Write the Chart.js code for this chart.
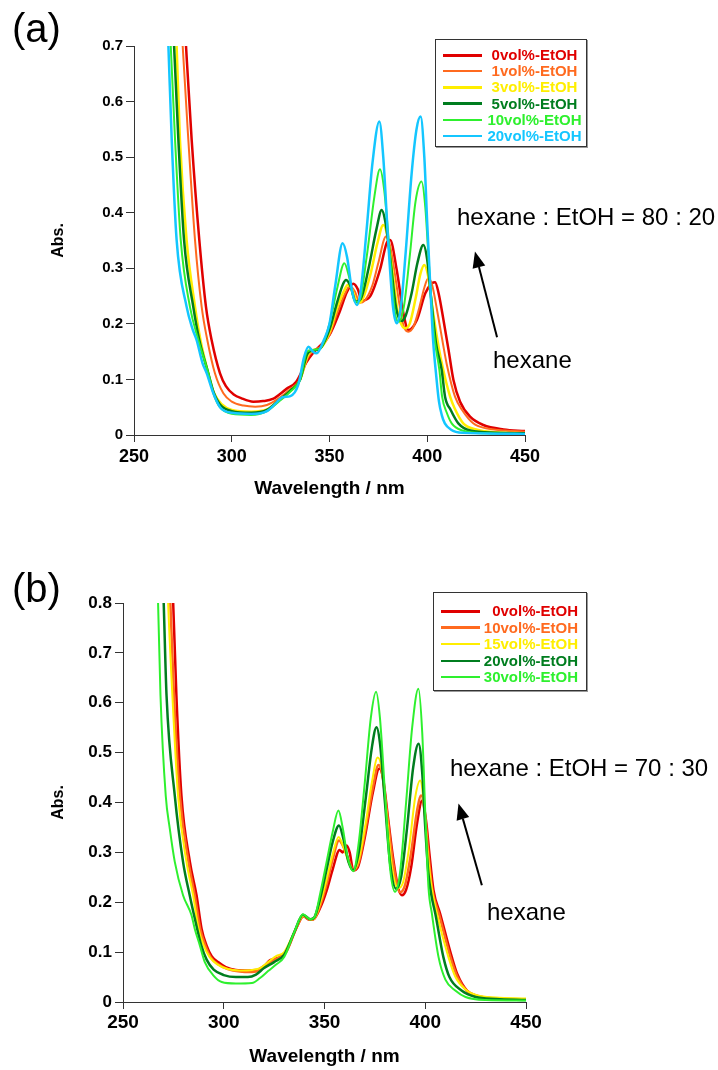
<!DOCTYPE html>
<html>
<head>
<meta charset="utf-8">
<script src="https://cdn.jsdelivr.net/npm/chart.js@4.4.1/dist/chart.umd.min.js"></script>
<style>
  body { margin: 0; background: #fff; font-family: "Liberation Sans", Arial, sans-serif; }
  #page { position: relative; width: 718px; height: 1070px; overflow: hidden; }
  .panel { position: absolute; left: 0; }
  .note { position: absolute; font-size: 24px; line-height: 24px; white-space: nowrap; color: #000; }
  .tag { position: absolute; font-size: 40px; line-height: 40px; color: #000; }
  .legend { position: absolute; box-sizing: border-box; border: 1px solid #333; box-shadow: 1px 1px 0 #999; background: #fff; }
  .legend .row { position: absolute; left: 0; right: 0; height: 16px; }
  .legend .swatch { position: absolute; left: 7px; width: 39px; }
  .legend .lab { position: absolute; top: 0; font-weight: bold; font-size: 15px; line-height: 16px; white-space: nowrap; }
</style>
</head>
<body>
<div id="page">
  <div class="panel" style="top:0; width:718px; height:530px;"><canvas id="chartA" width="718" height="530"></canvas></div>
  <div class="panel" style="top:530px; width:718px; height:540px;"><canvas id="chartB" width="718" height="540"></canvas></div>

  <div class="tag" style="left:12px; top:8px;">(a)</div>
  <div class="tag" style="left:12px; top:568px;">(b)</div>

  <div class="note" style="left:457px; top:205px;">hexane : EtOH = 80 : 20</div>
  <div class="note" style="left:493px; top:348px;">hexane</div>
  <div class="note" style="left:450px; top:756px;">hexane : EtOH = 70 : 30</div>
  <div class="note" style="left:487px; top:900px;">hexane</div>

  <div id="legendA" class="legend" style="left:435px; top:39px; width:152px; height:108px;"></div>
  <div id="legendB" class="legend" style="left:433px; top:592px; width:154px; height:99px;"></div>
</div>

<script>
// ---- panel (a): hexane : EtOH = 80 : 20 ----
const labelsA = ['0vol%-EtOH', '1vol%-EtOH', '3vol%-EtOH', '5vol%-EtOH', '10vol%-EtOH', '20vol%-EtOH'];
const colorsA = ['#e00000', '#ff6a1f', '#ffee00', '#007d1f', '#2ef02e', '#14c6ff'];
const widthsA = [2.5, 2, 2.5, 2.5, 2, 2.5];

const wlA0 = [275, 276.6, 279.5, 283.4, 286.8, 289.7, 294, 297, 301, 305, 311, 316, 321, 328, 333, 338, 341, 345, 350, 355, 359, 362.2, 364.5, 366.5, 370.7, 375.8, 379.2, 381, 384.4, 387.8, 390.4, 394.7, 399, 402.4, 404, 405.8, 408.3, 410.9, 413.4, 416.8, 421.9, 428.7, 439, 450];
const absA0 = [0.80, 0.70, 0.531, 0.351, 0.231, 0.171, 0.111, 0.088, 0.073, 0.066, 0.060, 0.061, 0.065, 0.083, 0.096, 0.13, 0.145, 0.16, 0.18, 0.22, 0.258, 0.272, 0.262, 0.242, 0.249, 0.297, 0.345, 0.351, 0.297, 0.219, 0.189, 0.207, 0.255, 0.273, 0.275, 0.255, 0.207, 0.153, 0.099, 0.06, 0.033, 0.018, 0.01, 0.007];

const wlA1 = [273.5, 274.9, 277.8, 281.2, 284.6, 287.5, 291.4, 295.7, 300, 306, 312, 318, 324, 330, 335, 339, 342, 346, 350, 354, 358, 360.5, 363, 365.5, 368, 372, 375, 378.9, 381, 383, 386, 388, 390.3, 393, 396, 398.5, 400.5, 402.5, 405, 408, 410, 414.2, 418, 423.5, 430, 440, 450];
const absA1 = [0.80, 0.70, 0.531, 0.351, 0.231, 0.171, 0.111, 0.075, 0.06, 0.053, 0.051, 0.054, 0.066, 0.083, 0.1, 0.14, 0.152, 0.16, 0.18, 0.22, 0.255, 0.268, 0.258, 0.238, 0.242, 0.27, 0.31, 0.357, 0.34, 0.3, 0.23, 0.195, 0.186, 0.195, 0.23, 0.265, 0.282, 0.27, 0.225, 0.165, 0.127, 0.069, 0.044, 0.021, 0.012, 0.008, 0.006];

const wlA3 = [270.5, 271.8, 273.5, 276.9, 281.2, 284, 288, 291, 295, 300, 310, 318, 324, 330, 335, 338.5, 341, 345, 350, 354, 357.5, 359.3, 361.5, 364.5, 367, 371, 374.5, 377.5, 379.5, 382, 385, 388.6, 391, 394, 396.5, 398.5, 400.5, 403, 406, 408.2, 411.7, 414, 418.4, 425, 435, 450];
const absA3 = [0.80, 0.70, 0.531, 0.351, 0.231, 0.171, 0.111, 0.075, 0.055, 0.045, 0.042, 0.046, 0.062, 0.08, 0.1, 0.14, 0.152, 0.155, 0.185, 0.23, 0.26, 0.27, 0.262, 0.237, 0.245, 0.29, 0.345, 0.378, 0.36, 0.3, 0.22, 0.192, 0.2, 0.245, 0.29, 0.306, 0.285, 0.22, 0.155, 0.117, 0.069, 0.048, 0.021, 0.01, 0.005, 0.003];

const wlA5 = [269.3, 270.5, 272.7, 275.6, 280.3, 283.4, 288, 290.6, 294, 300, 310, 318, 324, 330, 335, 338.5, 341, 345, 350, 354, 357, 358.4, 360.5, 363.5, 366, 370, 374, 376.7, 378.5, 381, 384, 386.9, 389, 392, 395, 398, 400, 402, 404.5, 407.4, 409.1, 412, 415.9, 422, 435, 450];
const absA5 = [0.80, 0.70, 0.531, 0.351, 0.231, 0.171, 0.111, 0.078, 0.055, 0.043, 0.04, 0.045, 0.062, 0.08, 0.1, 0.145, 0.152, 0.155, 0.19, 0.24, 0.272, 0.279, 0.27, 0.24, 0.245, 0.3, 0.37, 0.405, 0.385, 0.32, 0.23, 0.205, 0.215, 0.255, 0.31, 0.342, 0.315, 0.245, 0.165, 0.117, 0.069, 0.045, 0.021, 0.008, 0.004, 0.003];

const wlA10 = [267.6, 268.8, 271, 273.9, 278.6, 282.9, 288, 290.6, 294, 300, 310, 318, 324, 330, 335, 338.5, 341, 345, 350, 354, 357.6, 360, 363, 365, 369, 373, 375.8, 378, 381, 383.5, 385.6, 388, 391, 394, 397.1, 399, 401, 403.5, 406.2, 407.6, 410, 412.5, 418, 430, 450];
const absA10 = [0.80, 0.70, 0.531, 0.351, 0.231, 0.171, 0.111, 0.075, 0.05, 0.038, 0.036, 0.043, 0.06, 0.078, 0.1, 0.15, 0.153, 0.155, 0.2, 0.265, 0.309, 0.285, 0.24, 0.24, 0.32, 0.43, 0.478, 0.44, 0.32, 0.22, 0.204, 0.23, 0.32, 0.42, 0.456, 0.41, 0.3, 0.18, 0.117, 0.069, 0.04, 0.021, 0.008, 0.003, 0.002];

const wlA20 = [266.5, 267.6, 269.3, 271.8, 276.9, 280, 282, 285, 287.2, 290.6, 294, 300, 310, 318, 322, 326, 330, 334, 337, 339.2, 341.5, 343.4, 347, 350, 353, 356.7, 359, 361.5, 364, 366, 369, 372, 375.5, 377.5, 380, 382.5, 384.4, 386.5, 389, 392, 394.5, 396.6, 398.5, 400, 401.4, 403, 404.5, 406, 407.5, 409, 412, 418, 450];
const absA20 = [0.80, 0.70, 0.531, 0.351, 0.231, 0.19, 0.171, 0.13, 0.111, 0.075, 0.05, 0.04, 0.038, 0.043, 0.055, 0.068, 0.07, 0.09, 0.14, 0.159, 0.15, 0.147, 0.17, 0.2, 0.27, 0.345, 0.32, 0.26, 0.234, 0.26, 0.37, 0.49, 0.564, 0.5, 0.35, 0.23, 0.201, 0.23, 0.33, 0.47, 0.55, 0.573, 0.5, 0.38, 0.279, 0.17, 0.11, 0.06, 0.035, 0.021, 0.01, 0.004, 0.002];

// ---- panel (b): hexane : EtOH = 70 : 30 ----
const labelsB = ['0vol%-EtOH', '10vol%-EtOH', '15vol%-EtOH', '20vol%-EtOH', '30vol%-EtOH'];
const colorsB = ['#e00000', '#ff6a1f', '#ffee00', '#007d1f', '#2ef02e'];
const widthsB = [2.5, 2.5, 2, 2.5, 2];

const wlB0 = [274.2, 274.9, 276.5, 279, 283.2, 286.5, 289, 291.4, 294, 297.2, 301, 306, 312, 316.3, 320, 323, 328, 331.2, 336.2, 339.5, 342.5, 344.5, 348, 351.1, 354, 357.5, 359, 361, 362.5, 364.3, 366.5, 370, 374, 377.2, 379, 381.5, 384, 386.5, 388.4, 390.5, 393, 396, 398.5, 400.5, 402, 404.1, 407.4, 413.2, 416, 420.7, 426, 435, 450];
const absB0 = [0.85, 0.80, 0.615, 0.414, 0.281, 0.214, 0.147, 0.114, 0.092, 0.08, 0.07, 0.064, 0.063, 0.064, 0.072, 0.084, 0.09, 0.103, 0.15, 0.172, 0.165, 0.166, 0.19, 0.224, 0.265, 0.305, 0.3, 0.314, 0.3, 0.264, 0.27, 0.33, 0.42, 0.468, 0.45, 0.37, 0.29, 0.23, 0.214, 0.225, 0.27, 0.36, 0.404, 0.36, 0.3, 0.224, 0.177, 0.09, 0.055, 0.023, 0.012, 0.007, 0.005];

const wlB10 = [273, 273.5, 275.3, 278.2, 282.5, 285.6, 288.3, 290.8, 293.5, 297, 302, 308, 314, 318, 322, 327, 331, 336, 339.5, 343, 345, 348, 351, 354, 357.2, 359.5, 362, 364.3, 367, 370.5, 374, 376.8, 378.5, 381, 384, 387.5, 390, 393, 396, 398, 400, 401.5, 403.5, 406.8, 412.5, 416, 420.5, 426, 435, 450];
const absB10 = [0.85, 0.80, 0.615, 0.414, 0.281, 0.214, 0.147, 0.114, 0.09, 0.076, 0.066, 0.061, 0.06, 0.064, 0.077, 0.088, 0.1, 0.148, 0.172, 0.165, 0.167, 0.195, 0.235, 0.285, 0.324, 0.31, 0.285, 0.264, 0.28, 0.35, 0.43, 0.475, 0.46, 0.38, 0.28, 0.22, 0.235, 0.3, 0.385, 0.414, 0.37, 0.3, 0.225, 0.177, 0.09, 0.05, 0.023, 0.011, 0.006, 0.005];

const wlB15 = [272, 272.4, 274.5, 277.3, 281.5, 284.8, 287.5, 290, 293, 297, 302, 308, 314, 318, 322, 326, 330, 335, 339.5, 343, 345, 348, 351, 354, 357, 359.5, 362, 364.3, 367, 370.5, 373.5, 376.4, 378.3, 381, 383.5, 386.6, 389, 392, 395, 397.5, 399.5, 401, 403, 405.8, 411.5, 415, 420, 426, 435, 450];
const absB15 = [0.85, 0.80, 0.615, 0.414, 0.281, 0.214, 0.147, 0.114, 0.09, 0.075, 0.066, 0.063, 0.064, 0.068, 0.08, 0.092, 0.1, 0.14, 0.173, 0.165, 0.168, 0.2, 0.245, 0.295, 0.331, 0.31, 0.28, 0.264, 0.285, 0.36, 0.44, 0.49, 0.47, 0.37, 0.27, 0.228, 0.24, 0.31, 0.41, 0.444, 0.39, 0.31, 0.235, 0.177, 0.09, 0.05, 0.025, 0.013, 0.009, 0.007];

const wlB20 = [269.8, 270.2, 271.6, 275.7, 279.8, 283.1, 286.8, 288.8, 291.5, 295, 300, 306, 312, 316, 320, 325, 330, 335, 339.3, 343, 345, 348, 351, 354, 357.2, 359.5, 362, 364.3, 367, 370.5, 373.5, 375.8, 377.5, 380, 382.5, 385.5, 388, 391, 394, 396.7, 398.5, 400, 401.5, 403, 405, 409, 412, 418, 425, 435, 450];
const absB20 = [0.85, 0.80, 0.615, 0.414, 0.281, 0.214, 0.147, 0.114, 0.085, 0.065, 0.054, 0.05, 0.05, 0.055, 0.068, 0.08, 0.095, 0.14, 0.175, 0.166, 0.17, 0.21, 0.265, 0.32, 0.354, 0.325, 0.28, 0.264, 0.3, 0.41, 0.51, 0.551, 0.52, 0.4, 0.28, 0.227, 0.25, 0.35, 0.47, 0.518, 0.46, 0.35, 0.26, 0.215, 0.177, 0.09, 0.05, 0.023, 0.01, 0.006, 0.004];

const wlB30 = [267.2, 267.4, 268.6, 271.2, 273.2, 275.7, 279.8, 284, 285.6, 288.1, 290.6, 294.7, 299, 306, 314, 318, 322, 326, 330, 335, 339.3, 343, 345, 348, 351, 354, 356.9, 359, 361.5, 364.3, 367, 370, 373, 375.6, 377.5, 380, 382.5, 385, 387.5, 390.5, 393.5, 396.6, 398.5, 400, 401.6, 403.3, 406.6, 410, 414.9, 420, 430, 450];
const absB30 = [0.85, 0.80, 0.615, 0.414, 0.348, 0.281, 0.214, 0.174, 0.147, 0.114, 0.08, 0.054, 0.04, 0.037, 0.038, 0.048, 0.062, 0.075, 0.09, 0.14, 0.176, 0.166, 0.17, 0.22, 0.28, 0.34, 0.384, 0.35, 0.29, 0.262, 0.32, 0.44, 0.57, 0.622, 0.57, 0.42, 0.27, 0.221, 0.26, 0.4, 0.55, 0.628, 0.54, 0.38, 0.23, 0.177, 0.09, 0.045, 0.023, 0.01, 0.004, 0.003];

// arrows (data units) pointing towards the hexane-rich direction
const arrowA = { fromX: 435.7, fromY: 0.176, toX: 424.4, toY: 0.330 };
const arrowB = { fromX: 428.1, fromY: 0.234, toX: 416.5, toY: 0.398 };

Chart.defaults.font.family = "'Liberation Sans', Arial, sans-serif";
Chart.defaults.color = '#000';

function toPoints(wl, ab) {
    return wl.map((w, i) => ({ x: w, y: ab[i] }));
}

function buildSets(series, labels, colors, widths) {
    return series.map((s, i) => ({
        label: labels[i],
        data: toPoints(s[0], s[1]),
        borderColor: colors[i],
        backgroundColor: colors[i],
        borderWidth: widths[i],
        pointRadius: 0,
        cubicInterpolationMode: 'monotone',
        order: series.length - 1 - i // last series drawn on top
    }));
}

const arrowPlugin = {
    id: 'arrow',
    afterDatasetsDraw(chart, args, opts) {
        if (opts.fromX === undefined) return;
        const ctx = chart.ctx;
        const xs = chart.scales.x, ys = chart.scales.y;
        const x1 = xs.getPixelForValue(opts.fromX), y1 = ys.getPixelForValue(opts.fromY);
        const x2 = xs.getPixelForValue(opts.toX), y2 = ys.getPixelForValue(opts.toY);
        const ang = Math.atan2(y2 - y1, x2 - x1);
        const head = 16, half = 6.5;
        const bx = x2 - head * Math.cos(ang), by = y2 - head * Math.sin(ang);
        ctx.save();
        ctx.strokeStyle = '#000';
        ctx.fillStyle = '#000';
        ctx.lineWidth = 2;
        ctx.beginPath();
        ctx.moveTo(x1, y1);
        ctx.lineTo(bx, by);
        ctx.stroke();
        ctx.beginPath();
        ctx.moveTo(x2, y2);
        ctx.lineTo(bx + half * Math.sin(ang), by - half * Math.cos(ang));
        ctx.lineTo(bx - half * Math.sin(ang), by + half * Math.cos(ang));
        ctx.closePath();
        ctx.fill();
        ctx.restore();
    }
};

function makeChart(id, datasets, p) {
    return new Chart(document.getElementById(id), {
        type: 'line',
        data: { datasets: datasets },
        options: {
            responsive: false,
            animation: false,
            devicePixelRatio: 1,
            layout: { padding: { left: 0, top: p.top, right: p.right, bottom: p.bottom } },
            plugins: {
                legend: { display: false },
                tooltip: { enabled: false },
                arrow: p.arrow
            },
            scales: {
                x: {
                    type: 'linear',
                    min: 250,
                    max: 450,
                    ticks: { stepSize: 50, autoSkip: false, maxRotation: 0, padding: p.xPad, color: '#000', font: { size: p.xTick, weight: 'bold' } },
                    grid: { drawOnChartArea: false, drawTicks: true, tickLength: 7, color: '#333' },
                    border: { display: true, color: '#333', width: 1 },
                    title: { display: true, text: 'Wavelength / nm', color: '#000', font: { size: 19, weight: 'bold' }, padding: { top: 0, bottom: p.titlePad } },
                    afterFit: (s) => { s.height = p.xHeight; }
                },
                y: {
                    type: 'linear',
                    min: 0,
                    max: p.yMax,
                    ticks: {
                        stepSize: 0.1,
                        padding: 3,
                        color: '#000',
                        font: { size: p.yTick, weight: 'bold' },
                        callback: (v) => String(Math.round(v * 10) / 10)
                    },
                    grid: { drawOnChartArea: false, drawTicks: true, tickLength: 8, color: '#333' },
                    border: { display: true, color: '#333', width: 1 },
                    title: { display: true, text: 'Abs.', color: '#000', font: { size: 16, weight: 'bold' }, padding: { top: 49, bottom: 0 } },
                    afterFit: (s) => { s.width = p.yWidth; }
                }
            }
        },
        plugins: [arrowPlugin]
    });
}

// html legend built from the chart's own datasets
function buildLegend(chart, el, cfg) {
    chart.data.datasets.forEach((ds, i) => {
        const row = document.createElement('div');
        row.className = 'row';
        row.style.top = (cfg.first + i * cfg.step - 8) + 'px';
        const sw = document.createElement('div');
        sw.className = 'swatch';
        sw.style.height = cfg.thick[i] + 'px';
        sw.style.top = (8 - cfg.thick[i] / 2) + 'px';
        sw.style.background = ds.borderColor;
        const lab = document.createElement('div');
        lab.className = 'lab';
        lab.textContent = ds.label;
        lab.style.color = ds.borderColor;
        lab.style.left = cfg.textLeft + 'px';
        lab.style.width = cfg.textWidth + 'px';
        lab.style.textAlign = cfg.align;
        row.appendChild(sw);
        row.appendChild(lab);
        el.appendChild(row);
    });
}

const setsA = buildSets([[wlA0, absA0], [wlA1, absA1], [wlA3, absA3], [wlA5, absA5], [wlA10, absA10], [wlA20, absA20]], labelsA, colorsA, widthsA);
const setsB = buildSets([[wlB0, absB0], [wlB10, absB10], [wlB15, absB15], [wlB20, absB20], [wlB30, absB30]], labelsB, colorsB, widthsB);

const chartA = makeChart('chartA', setsA, {
    top: 46, right: 193, bottom: 25, xHeight: 70, yWidth: 134, titlePad: 5,
    xPad: 4, xTick: 18, yTick: 15, yMax: 0.7, arrow: arrowA
});
const chartB = makeChart('chartB', setsB, {
    top: 73, right: 192, bottom: 2, xHeight: 66, yWidth: 123, titlePad: 0,
    xPad: 2, xTick: 19, yTick: 17, yMax: 0.8, arrow: arrowB
});

buildLegend(chartA, document.getElementById('legendA'), {
    first: 15, step: 16.2, thick: [3, 1.5, 3, 3, 1.5, 2], textLeft: 51, textWidth: 95, align: 'center'
});
buildLegend(chartB, document.getElementById('legendB'), {
    first: 18, step: 16.5, thick: [3, 3, 1.5, 2, 1.5], textLeft: 46, textWidth: 98, align: 'right'
});
</script>
</body>
</html>
